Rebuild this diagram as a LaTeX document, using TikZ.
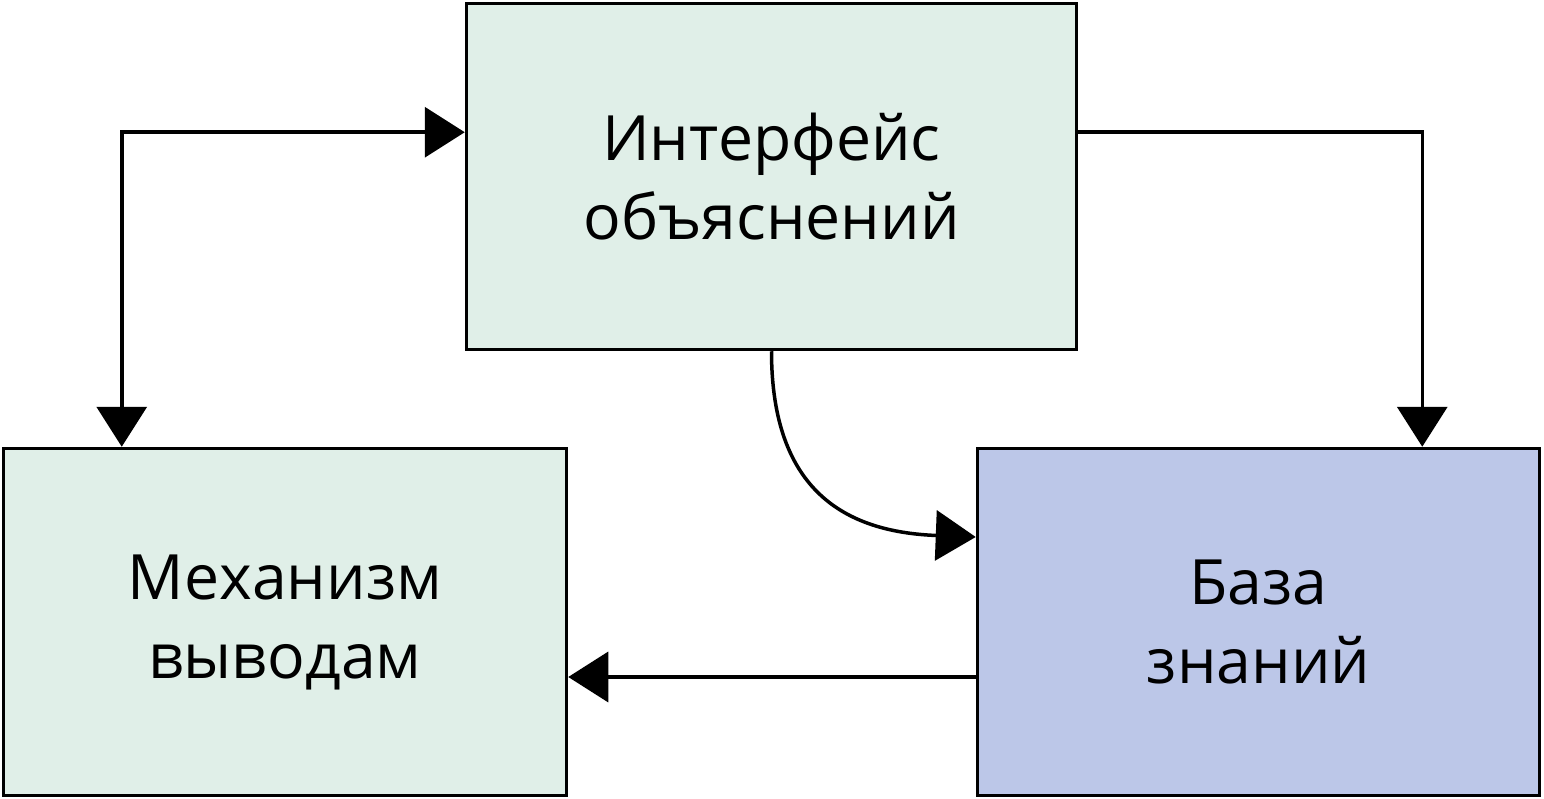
\documentclass[tikz,border=0pt]{standalone}
\usepackage{fontspec}
\setmainfont{Open Sans}
\usetikzlibrary{arrows.meta}
\definecolor{boxgreen}{RGB}{224,239,232}
\definecolor{boxblue}{RGB}{188,199,232}
\tikzset{
  box/.style={draw=black, line width=3.5pt, inner sep=0pt, align=center,
    font=\fontsize{62.5}{79}\selectfont},
  conn/.style={line width=3.5pt, -{Triangle[length=40pt,width=50pt]}},
  conn2/.style={line width=3.5pt, {Triangle[length=40pt,width=50pt]}-{Triangle[length=40pt,width=50pt]}}
}
\begin{document}
\begin{tikzpicture}[x=1pt,y=-1pt]
\useasboundingbox (0,0) rectangle (1544,799);
\node[box, fill=boxgreen, minimum width=610pt, minimum height=346pt] (iface) at (771.5,176.5) {Интерфейс\\объяснений};
\node[box, fill=boxgreen, minimum width=563pt, minimum height=347pt] (mech) at (285,622) {Механизм\\выводам};
\node[box, fill=boxblue, minimum width=562pt, minimum height=347pt] (kb) at (1258.5,622) {База\\знаний};
\coordinate (c1) at ([xshift=120pt]mech.north west);
\coordinate (c2) at ([yshift=-130.5pt]iface.north west);
\draw[conn2] (c1) |- (c2);
\coordinate (c3) at ([yshift=-130.5pt]iface.north east);
\coordinate (c4) at ([xshift=-119pt]kb.north east);
\draw[conn] (c3) -| (c4);
\coordinate (c5) at ([yshift=85pt]kb.west);
\draw[conn] (iface.south) .. controls +(0,140) and +(-130,-5) .. (c5);
\coordinate (c6) at ([yshift=-55pt]kb.west);
\coordinate (c7) at ([yshift=-55pt]mech.east);
\draw[conn] (c6) -- (c7);
\end{tikzpicture}
\end{document}
